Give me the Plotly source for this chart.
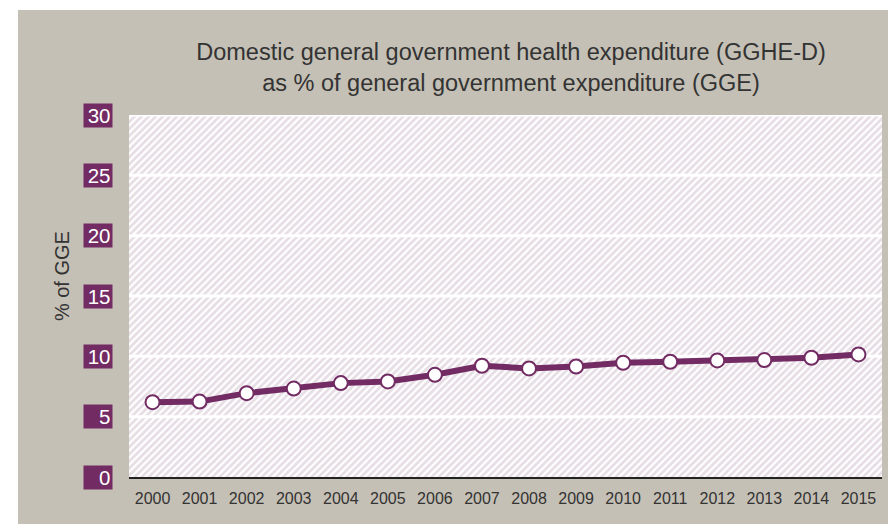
import plotly.graph_objects as go

# Domestic general government health expenditure as % of GGE
years = [2000, 2001, 2002, 2003, 2004, 2005, 2006, 2007,
         2008, 2009, 2010, 2011, 2012, 2013, 2014, 2015]
gghe_pct = [6.2, 6.25, 6.95, 7.33, 7.78, 7.92, 8.47, 9.22,
            9.0, 9.16, 9.47, 9.55, 9.66, 9.69, 9.88, 10.16]
y_ticks = [0, 5, 10, 15, 20, 25, 30]
x_labels = [str(y) for y in years]

PURPLE = "#722b63"
PANEL = "#c5c0b5"
TEXT = "#333333"
FONT = "Liberation Sans, Arial, sans-serif"

W, H = 888, 524
ML, MR, MT, MB = 129, 6, 115, 47
pw, ph = W - ML - MR, H - MT - MB

x_lo, x_hi = years[0] - 0.5, years[-1] + 0.5
y_lo, y_hi = y_ticks[0], y_ticks[-1]

fig = go.Figure()

# hatched plot background
fig.add_trace(go.Scatter(
    x=[x_lo, x_hi, x_hi, x_lo, x_lo],
    y=[y_lo, y_lo, y_hi, y_hi, y_lo],
    mode="lines", line=dict(width=0), fill="toself",
    fillcolor="rgba(0,0,0,0)",
    fillpattern=dict(shape="/", fgcolor="#cdbccb", bgcolor="#ffffff",
                     size=5, solidity=0.55),
    hoverinfo="skip", showlegend=False,
))

# white horizontal gridlines at each tick value
gx, gy = [], []
for t in y_ticks[1:]:
    gx += [x_lo, x_hi, None]
    gy += [t, t, None]
fig.add_trace(go.Scatter(
    x=gx, y=gy, mode="lines", line=dict(color="white", width=3),
    hoverinfo="skip", showlegend=False,
))

# data series
fig.add_trace(go.Scatter(
    x=years, y=gghe_pct, mode="lines+markers",
    line=dict(color=PURPLE, width=6),
    marker=dict(size=14, color="white", line=dict(color=PURPLE, width=2)),
    showlegend=False,
))

# grey panel behind everything
fig.add_shape(
    type="rect", xref="paper", yref="paper", layer="below",
    x0=(18 - ML) / pw, x1=(W - ML) / pw,
    y0=-MB / ph, y1=((H - MB) - 10) / ph,
    fillcolor=PANEL, line=dict(width=0),
)

# boxed y tick labels
for t in y_ticks:
    fig.add_annotation(
        x=(113 - ML) / pw, xref="paper", xanchor="right",
        y=t, yref="y", yanchor="middle",
        text=str(t), showarrow=False, align="right",
        font=dict(family=FONT, size=20.5, color="white"),
        bgcolor=PURPLE, width=25, height=20, borderpad=1.5,
    )

# y axis title
fig.add_annotation(
    x=(62 - ML) / pw, xref="paper", xanchor="center",
    y=0.555, yref="paper", yanchor="middle",
    text="% of GGE", showarrow=False, textangle=-90,
    font=dict(family=FONT, size=20, color=TEXT),
)

fig.update_layout(
    width=W, height=H,
    margin=dict(l=ML, r=MR, t=MT, b=MB),
    paper_bgcolor="white", plot_bgcolor="white",
    title=dict(
        text="Domestic general government health expenditure (GGHE-D)<br>"
             "as % of general government expenditure (GGE)",
        x=511 / W, xanchor="center", y=1 - 60 / H, yanchor="middle",
        font=dict(family=FONT, size=23.5, color=TEXT),
    ),
    xaxis=dict(
        range=[x_lo, x_hi], tickvals=years, ticktext=x_labels,
        showgrid=False, zeroline=False,
        showline=True, linecolor="#222222", linewidth=2,
        ticks="outside", ticklen=6, tickcolor="rgba(0,0,0,0)",
        tickfont=dict(family=FONT, size=16, color=TEXT),
    ),
    yaxis=dict(
        range=[y_lo, y_hi], showgrid=False, zeroline=False,
        showticklabels=False, ticks="",
    ),
)

fig.write_html("out.html")
